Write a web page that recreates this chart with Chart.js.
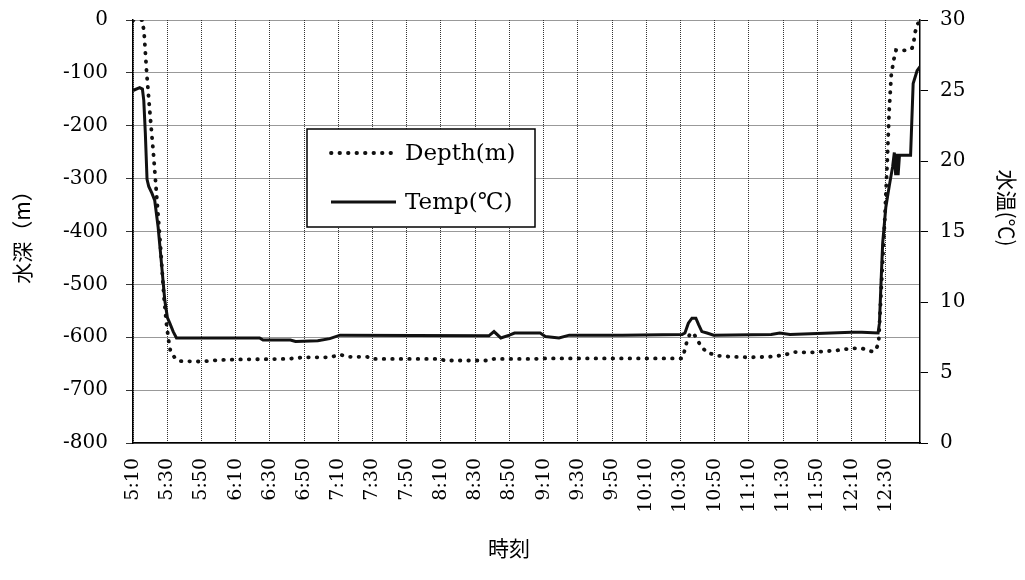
<!DOCTYPE html>
<html>
<head>
<meta charset="utf-8">
<script src="https://cdn.jsdelivr.net/npm/chart.js@4/dist/chart.umd.min.js"></script>
<style>
  body { margin: 0; background: #fff; }
  #wrap { width: 1025px; height: 580px; }
</style>
</head>
<body>
<div id="wrap"><canvas id="chart"></canvas></div>
<script>
// x axis tick labels, one every 20 minutes
const timeLabels = ['5:10','5:30','5:50','6:10','6:30','6:50','7:10','7:30','7:50','8:10','8:30','8:50',
  '9:10','9:30','9:50','10:10','10:30','10:50','11:10','11:30','11:50','12:10','12:30'];

// depth log (time in minutes after midnight, depth in m)
const depthTime = [310, 315.5, 316.5, 318, 320, 322, 324, 326, 328, 329.5, 331, 332, 334.5, 337,
  350, 360, 372, 400, 410, 425, 431, 436, 447, 450, 490, 492, 518, 521, 545, 550, 600, 631,
  632, 633, 634, 636, 638, 639.6, 641.5, 645.5, 652, 660, 670, 682, 690, 697, 705, 713, 721,
  730, 736, 742, 744, 745.8, 747.6, 749.4, 750.9, 752, 753.2, 754.6, 756, 759, 763.5, 765.4,
  766.4, 767, 768.5, 770];
const depthValue = [0, 0, -25, -100, -180, -255, -340, -425, -520, -573, -610, -628, -639, -645,
  -646, -643, -642, -641, -638, -638, -633, -637, -637, -641, -641, -644, -644, -641, -641, -640, -640, -640,
  -630, -618, -604, -591, -595, -602, -615, -629, -635, -637, -638, -637, -634, -628, -629, -627, -625,
  -621, -621, -627, -625, -611, -492, -378, -265, -170, -104, -76, -57, -58, -57, -53,
  -40, -25, -8, -2];

// temperature log (time in minutes, temp in deg C)
const tempTime = [310, 313.9, 315.5, 316.3, 317.2, 318.2, 319.2, 321.1, 322.7, 324.7, 326.6, 328.6,
  330.1, 331.5, 333.5, 335.4, 384, 386, 402, 405, 418, 425, 431, 518, 521, 525, 530, 533, 548,
  551, 559, 565, 596, 631, 632.6, 634.6, 636.7, 639, 640.6, 642.5, 645.5, 649.4, 683, 688, 694,
  730, 736, 745.5, 746.3, 747.2, 748.2, 750, 752, 754, 755, 755.8, 756.5, 757.2, 758, 764.5,
  766, 768.3, 770];
const tempValue = [25.0, 25.2, 25.1, 24.3, 22.0, 18.7, 18.2, 17.7, 17.2, 15.3, 12.8, 10.1,
  8.9, 8.5, 7.9, 7.45, 7.45, 7.3, 7.3, 7.2, 7.25, 7.4, 7.65, 7.6, 7.9, 7.45, 7.65, 7.8, 7.8,
  7.55, 7.45, 7.65, 7.65, 7.7, 7.8, 8.5, 8.85, 8.85, 8.4, 7.9, 7.8, 7.65, 7.7, 7.8, 7.7,
  7.85, 7.85, 7.8, 8.5, 11.3, 14.2, 16.7, 18.2, 19.6, 20.6, 19.0, 20.5, 19.0, 20.4, 20.4,
  25.5, 26.4, 26.7];

const toMinutes = s => { const p = s.split(':'); return (+p[0]) * 60 + (+p[1]); };
const serif = '"DejaVu Serif", "Liberation Serif", serif';
const gothic = '"Noto Sans CJK JP", "Noto Sans", sans-serif';

// legend box inside the plot + axis titles
const overlay = {
  id: 'overlay',
  afterDraw(chart) {
    const ctx = chart.ctx;
    ctx.save();
    // legend
    ctx.fillStyle = '#fff';
    ctx.fillRect(307, 129, 228, 98);
    ctx.strokeStyle = '#000';
    ctx.lineWidth = 1.5;
    ctx.strokeRect(307, 129, 228, 98);
    const rows = [153, 202];
    chart.data.datasets.forEach((ds, i) => {
      ctx.save();
      ctx.strokeStyle = ds.borderColor;
      ctx.lineWidth = ds.borderWidth;
      ctx.lineCap = ds.borderCapStyle || 'butt';
      ctx.setLineDash(ds.borderDash || []);
      ctx.beginPath();
      ctx.moveTo(331, rows[i]);
      ctx.lineTo(396, rows[i]);
      ctx.stroke();
      ctx.restore();
      ctx.fillStyle = '#000';
      ctx.font = '23px ' + serif;
      ctx.textAlign = 'left';
      ctx.textBaseline = 'middle';
      ctx.fillText(ds.label, 405, rows[i] + 1);
    });
    // axis titles
    ctx.fillStyle = '#000';
    ctx.font = '21px ' + gothic;
    ctx.textAlign = 'center';
    ctx.textBaseline = 'middle';
    ctx.fillText('時刻', 509, 548);
    ctx.save();
    ctx.translate(22, 232);
    ctx.rotate(-Math.PI / 2);
    ctx.fillText('水深（m）', 0, 0);
    ctx.restore();
    ctx.save();
    ctx.translate(1007, 208);
    ctx.rotate(Math.PI / 2);
    ctx.fillText('水温(℃)', 0, 0);
    ctx.restore();
    ctx.restore();
  }
};

// fix the size of each axis box so the plot area sits where the original has it
const fitY = w => axis => { axis.width = w; axis.paddingTop = 0; axis.paddingBottom = 0; };

new Chart(document.getElementById('chart'), {
  type: 'line',
  data: {
    datasets: [
      {
        label: 'Depth(m)',
        data: depthTime.map((t, i) => ({ x: t, y: depthValue[i] })),
        yAxisID: 'y',
        borderColor: '#111',
        borderWidth: 3.8,
        borderDash: [0.5, 8],
        borderCapStyle: 'round',
        pointRadius: 0,
        tension: 0,
        fill: false
      },
      {
        label: 'Temp(℃)',
        data: tempTime.map((t, i) => ({ x: t, y: tempValue[i] })),
        yAxisID: 'y2',
        borderColor: '#111',
        borderWidth: 3,
        pointRadius: 0,
        tension: 0,
        fill: false
      }
    ]
  },
  options: {
    responsive: true,
    maintainAspectRatio: false,
    animation: false,
    layout: { padding: { top: 20, left: 0, right: 0, bottom: 0 } },
    plugins: { legend: { display: false }, tooltip: { enabled: false } },
    scales: {
      x: {
        type: 'linear',
        min: 310,
        max: 770,
        afterBuildTicks: axis => { axis.ticks = timeLabels.map(l => ({ value: toMinutes(l) })); },
        afterFit: axis => { axis.height = 137; axis.paddingLeft = 0; axis.paddingRight = 0; },
        ticks: {
          autoSkip: false,
          maxRotation: 90,
          minRotation: 90,
          padding: 15,
          color: '#000',
          font: { family: serif, size: 19 },
          callback: (v, i) => timeLabels[i]
        },
        grid: { color: '#333', lineWidth: 1, drawTicks: false },
        border: { color: '#000', width: 1.5, dash: [1, 1] }
      },
      y: {
        position: 'left',
        min: -800,
        max: 0,
        afterFit: fitY(133),
        ticks: {
          stepSize: 100,
          padding: 18,
          color: '#000',
          font: { family: serif, size: 20 }
        },
        grid: { color: '#333', lineWidth: 1, tickLength: 7 },
        border: { color: '#000', width: 1.5, dash: [1, 1] }
      },
      y2: {
        position: 'right',
        min: 0,
        max: 30,
        afterFit: fitY(105),
        ticks: {
          stepSize: 5,
          padding: 12,
          color: '#000',
          font: { family: serif, size: 20 }
        },
        grid: { drawOnChartArea: false, color: '#000', tickLength: 8 },
        border: { color: '#000', width: 1.5 }
      }
    }
  },
  plugins: [overlay]
});
</script>
</body>
</html>
